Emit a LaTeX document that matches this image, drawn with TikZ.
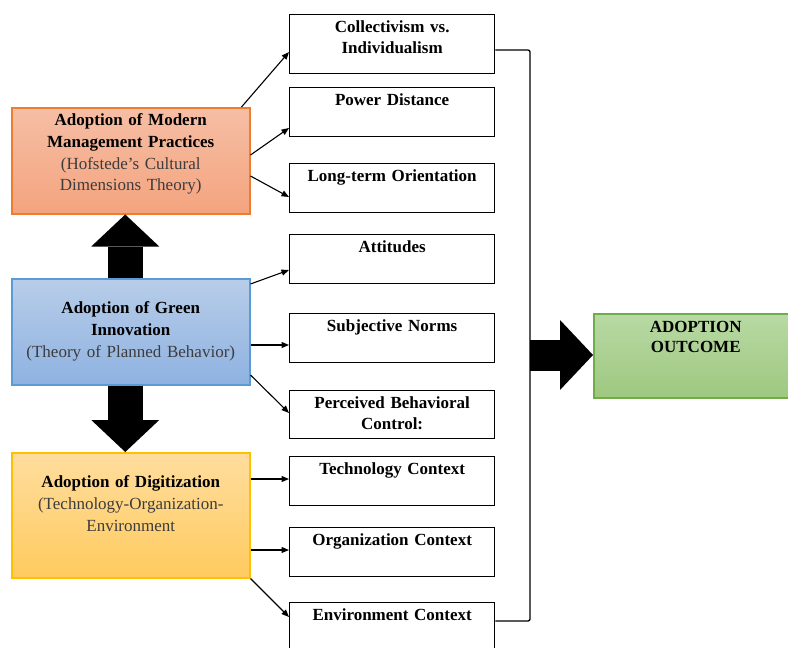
\documentclass[tikz,border=0pt]{standalone}
\usepackage{xcolor}
\usepackage{fontspec}
\setmainfont{Liberation Serif}
\usepackage{tikz}
\usetikzlibrary{arrows.meta}

\definecolor{mgmtTop}{RGB}{246,190,165}
\definecolor{mgmtBot}{RGB}{244,164,126}
\definecolor{mgmtLine}{RGB}{237,125,49}
\definecolor{innovTop}{RGB}{184,205,233}
\definecolor{innovBot}{RGB}{142,178,225}
\definecolor{innovLine}{RGB}{91,155,213}
\definecolor{digitTop}{RGB}{255,221,158}
\definecolor{digitBot}{RGB}{255,203,95}
\definecolor{digitLine}{RGB}{255,192,0}
\definecolor{outTop}{RGB}{184,217,164}
\definecolor{outBot}{RGB}{158,200,128}
\definecolor{outLine}{RGB}{112,173,71}
\definecolor{subtxt}{RGB}{60,60,60}

\begin{document}
\begin{tikzpicture}[
      x=1pt, y=-1pt,
      txt/.style={font=\fontsize{17}{21.7}\selectfont, align=center,
        inner ysep=0pt, inner xsep=6pt, anchor=north west},
      theory/.style={txt, draw=#1Line, line width=1.5pt,
        top color=#1Top, bottom color=#1Bot, text width=226pt},
      dim/.style={txt, draw, line width=1.3pt, fill=white, text width=193pt,
        text height=18pt, text depth=31pt, font=\bfseries\fontsize{17}{21}\selectfont},
      conn/.style={line width=1.1pt, -{Triangle[length=7.5pt, width=6pt]}},
      bigarrow/.style={line width=35pt, -{Triangle[length=32pt, width=68pt, line width=0pt]}}
    ]
    \clip (0,0) rectangle (788,648);

    % Teorie
    \node[theory=mgmt, text height=18pt, text depth=88pt] (mgmt) at (11,107)
      {\textbf{Adoption of Modern}\\\textbf{Management Practices}\\
       \textcolor{subtxt}{(Hofstede's Cultural}\\\textcolor{subtxt}{Dimensions Theory)}};
    \node[theory=innov, text height=35pt, text depth=71pt] (innov) at (11,278)
      {\textbf{Adoption of Green}\\\textbf{Innovation}\\
       \textcolor{subtxt}{(Theory of Planned Behavior)}};
    \node[theory=digit, text height=35pt, text depth=90pt] (digit) at (11,452)
      {\textbf{Adoption of Digitization}\\\textcolor{subtxt}{(Technology-Organization-}\\
       \textcolor{subtxt}{Environment}};

    % Dimensioni
    \node[dim, text depth=41pt] (cv) at (289,14) {Collectivism vs.\\Individualism};
    \node[dim] (pd) at (289,87) {Power Distance};
    \node[dim] (lto) at (289,163) {Long-term Orientation};
    \node[dim] (att) at (289,234) {Attitudes};
    \node[dim] (sn) at (289,313) {Subjective Norms};
    \node[dim, text depth=30pt] (pbc) at (289,390) {Perceived Behavioral\\Control:};
    \node[dim] (tc) at (289,456) {Technology Context};
    \node[dim] (oc) at (289,527) {Organization Context};
    \node[dim] (env) at (289,602) {Environment Context};

    % Risultato
    \node[theory=out, text width=192pt, text height=19pt, text depth=65pt,
      font=\bfseries\fontsize{17}{20}\selectfont] (outcome) at (593,313) {ADOPTION\\OUTCOME};

    % Frecce sottili
    \draw[conn] ([xshift=-9pt]mgmt.north east) -- (cv.west |- 0,52);
    \draw[conn] (mgmt.east |- 0,155) -- (pd.west |- 0,128);
    \draw[conn] (mgmt.east |- 0,176) -- (lto.west |- 0,197);
    \draw[conn] (innov.east |- 0,284) -- (att.west |- 0,270);
    \draw[conn] (innov.east |- 0,345) -- (sn.west |- 0,345);
    \draw[conn] (innov.east |- 0,375) -- (pbc.west |- 0,413);
    \draw[conn] (digit.east |- 0,479) -- (tc.west |- 0,479);
    \draw[conn] (digit.east |- 0,550) -- (oc.west |- 0,550);
    \draw[conn] (digit.south east) -- (env.west |- 0,617);

    % Parentesi
    \coordinate (join) at (530,355);
    \draw[line width=1.3pt, rounded corners=2pt]
      (cv.east |- 0,50) -- (join |- 0,50) -- (join |- 0,621) -- (env.east |- 0,621);

    % Frecce grandi
    \draw[bigarrow] ([xshift=-5.5pt]innov.north) -- ([xshift=-5.5pt]mgmt.south);
    \draw[bigarrow] ([xshift=-5.5pt]innov.south) -- ([xshift=-5.5pt]digit.north);
    \draw[bigarrow, line width=31pt,
      -{Triangle[length=33pt, width=70pt, line width=0pt]}] (join) -- (outcome.west |- join);
  \end{tikzpicture}
\end{document}
